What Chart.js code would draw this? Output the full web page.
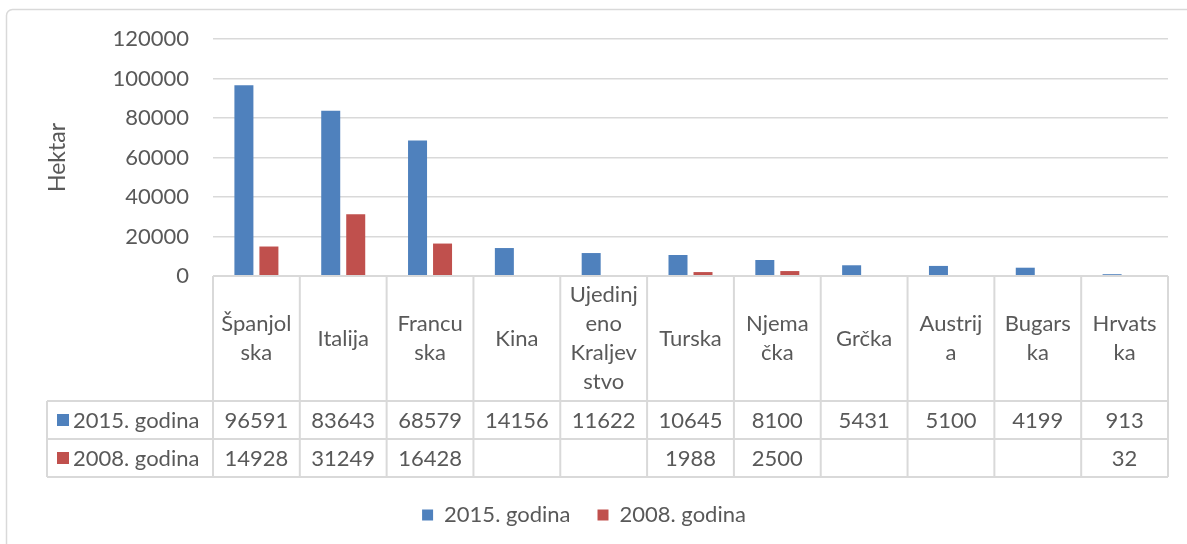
<!DOCTYPE html>
<html>
<head>
<meta charset="utf-8">
<script src="https://cdn.jsdelivr.net/npm/chart.js@4.4.0/dist/chart.umd.min.js"></script>
<style>
    html, body { margin: 0; padding: 0; background: #fff; }
    #okvir { width: 1187px; height: 544px; position: relative; overflow: hidden; }
</style>
</head>
<body>
<div id="okvir"><canvas id="grafico" width="1187" height="544"></canvas></div>
<script>
// Podaci s grafikona (hektari)
const drzave = ['Španjolska', 'Italija', 'Francuska', 'Kina', 'Ujedinjeno Kraljevstvo', 'Turska',
    'Njemačka', 'Grčka', 'Austrija', 'Bugarska', 'Hrvatska'];
// kako su nazivi prelomljeni u ćelijama tablice
const oznakeDrzava = [['Španjol', 'ska'], ['Italija'], ['Francu', 'ska'], ['Kina'],
    ['Ujedinj', 'eno', 'Kraljev', 'stvo'], ['Turska'], ['Njema', 'čka'], ['Grčka'],
    ['Austrij', 'a'], ['Bugars', 'ka'], ['Hrvats', 'ka']];
const serije = ['2015. godina', '2008. godina'];
const godina2015 = [96591, 83643, 68579, 14156, 11622, 10645, 8100, 5431, 5100, 4199, 913];
const godina2008 = [14928, 31249, 16428, null, null, 1988, 2500, null, null, null, 32];
const boje = ['#4F81BD', '#C0504D'];

const FONT = 'Lato';
const VELICINA = 22;
const SIVA = '#595959';
const LINIJA = '#d9d9d9';

// Okvir oko cijelog grafikona
const okvirPlugin = {
    id: 'okvir',
    beforeDraw(chart) {
        const ctx = chart.ctx;
        ctx.save();
        ctx.strokeStyle = LINIJA;
        ctx.lineWidth = 1.5;
        ctx.beginPath();
        ctx.roundRect(6.5, 9.5, 1300, 700, 6);
        ctx.stroke();
        ctx.restore();
    }
};

// Tablica s podacima ispod osi
const tablicaPlugin = {
    id: 'tablica',
    afterDraw(chart) {
        const ctx = chart.ctx;
        const area = chart.chartArea;
        const x = chart.scales.x;
        const n = drzave.length;
        const sirina = (area.right - area.left) / n;
        const vrh = area.bottom;
        const r1 = vrh + 125, r2 = r1 + 38, r3 = r2 + 38;
        const lijevo = 47;
        const redovi = [godina2015, godina2008];

        ctx.save();
        ctx.strokeStyle = LINIJA;
        ctx.lineWidth = 2;
        ctx.beginPath();
        ctx.moveTo(area.left, vrh); ctx.lineTo(area.right, vrh);
        [r1, r2, r3].forEach(y => { ctx.moveTo(lijevo, y); ctx.lineTo(area.right, y); });
        for (let j = 0; j <= n; j++) {
            const xx = area.left + j * sirina;
            ctx.moveTo(xx, vrh); ctx.lineTo(xx, r3);
        }
        ctx.moveTo(lijevo, r1); ctx.lineTo(lijevo, r3);
        ctx.stroke();

        ctx.fillStyle = SIVA;
        ctx.font = VELICINA + 'px ' + FONT;
        ctx.textAlign = 'center';
        ctx.textBaseline = 'middle';

        // nazivi država
        const sredina = (vrh + r1) / 2;
        oznakeDrzava.forEach((linije, i) => {
            const cx = x.getPixelForValue(i);
            const h = 29;
            const y0 = sredina - (linije.length - 1) * h / 2;
            linije.forEach((t, k) => ctx.fillText(t, cx, y0 + k * h));
        });

        // vrijednosti
        redovi.forEach((vrijednosti, r) => {
            const cy = r === 0 ? (r1 + r2) / 2 : (r2 + r3) / 2;
            vrijednosti.forEach((v, i) => {
                if (v !== null) ctx.fillText(String(v), x.getPixelForValue(i), cy + 1);
            });
            // legenda u prvom stupcu
            ctx.fillStyle = boje[r];
            ctx.fillRect(57, cy - 6, 12, 12);
            ctx.fillStyle = SIVA;
            ctx.textAlign = 'left';
            ctx.fillText(serije[r], 73, cy + 1);
            ctx.textAlign = 'center';
        });
        ctx.restore();
    }
};

const ctx = document.getElementById('grafico').getContext('2d');
const meuGrafico = new Chart(ctx, {
    type: 'bar',
    data: {
        labels: drzave,
        datasets: [
            { label: serije[0], data: godina2015, backgroundColor: boje[0] },
            { label: serije[1], data: godina2008, backgroundColor: boje[1] }
        ]
    },
    options: {
        responsive: false,
        animation: false,
        devicePixelRatio: 1,
        categoryPercentage: 0.576,
        barPercentage: 0.76,
        layout: { padding: { left: 0, right: 19, top: 39, bottom: 8 } },
        scales: {
            x: {
                ticks: { display: false },
                grid: { display: false },
                border: { display: false },
                afterFit(scale) { scale.height = 201; }
            },
            y: {
                min: 0,
                max: 120000,
                ticks: {
                    stepSize: 20000,
                    padding: 24,
                    color: SIVA,
                    font: { family: FONT, size: VELICINA },
                    callback: v => String(v)
                },
                grid: { color: LINIJA, lineWidth: 1.5, drawTicks: false },
                border: { display: false },
                title: {
                    display: true,
                    text: 'Hektar',
                    color: SIVA,
                    font: { family: FONT, size: 23 },
                    padding: { top: 44 }
                },
                afterFit(scale) { scale.width = 213; }
            }
        },
        plugins: {
            legend: {
                position: 'bottom',
                labels: {
                    boxWidth: 11,
                    boxHeight: 11,
                    padding: 27,
                    color: SIVA,
                    font: { family: FONT, size: VELICINA }
                }
            },
            tooltip: { enabled: false }
        }
    },
    plugins: [okvirPlugin, tablicaPlugin]
});
</script>
</body>
</html>
